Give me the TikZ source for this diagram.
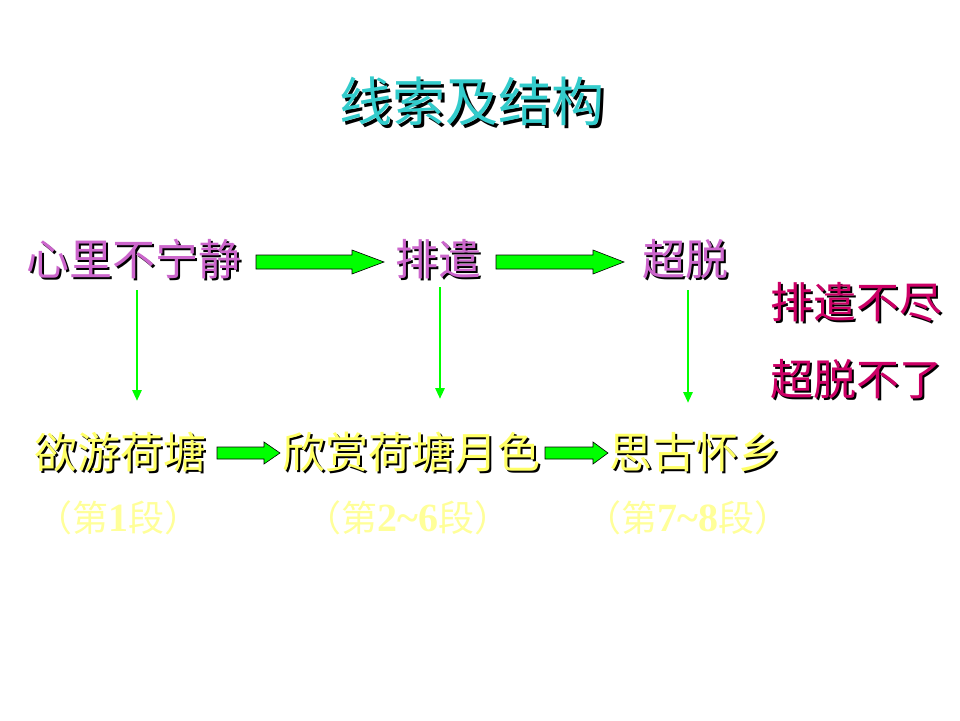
\documentclass[tikz,border=0pt]{standalone}
\usepackage{fontspec}
\usetikzlibrary{arrows.meta,calc}
\newfontfamily\cjk{Noto Sans CJK SC}
\newfontfamily\numfont{Liberation Serif}
\definecolor{titlecol}{HTML}{33CCCC}
\definecolor{violetcol}{HTML}{CC66CC}
\definecolor{yellowcol}{HTML}{FFFF66}
\definecolor{redcol}{HTML}{CC0066}
\definecolor{palecol}{HTML}{FFFF99}
\definecolor{arrowgreen}{HTML}{00FF00}
\newcommand\shtxt[3]{\rlap{\hspace{#3}\raisebox{-#3}{\color{black}#2}}{\color{#1}#2}}
\newcommand\dg[1]{{\numfont\bfseries\fontsize{40}{44}\selectfont #1}}
\tikzset{
  txt/.style={inner sep=0pt, font=\cjk\fontsize{43}{48}\selectfont},
  ttl/.style={inner sep=0pt, font=\cjk\fontsize{53}{60}\selectfont},
  para/.style={inner sep=0pt, text=palecol, font=\cjk\fontsize{36}{40}\selectfont},
  barrow/.style={draw=black, line width=0.6pt, fill=arrowgreen, line join=miter},
  varrow/.style={draw=arrowgreen, line width=2.8pt, -{Triangle[width=9pt,length=11pt]}}
}
\newcommand\blockarr[5]{%
  \draw[barrow] ($(#1)+(0,#3)$) -- ($(#2)+(-#5,#3)$) -- ($(#2)+(-#5,#4)$) -- (#2)
    -- ($(#2)+(-#5,-#4)$) -- ($(#2)+(-#5,-#3)$) -- ($(#1)+(0,-#3)$) -- cycle;}
\begin{document}
\begin{tikzpicture}[x=1pt,y=-1pt]
\useasboundingbox (0,0) rectangle (960,720);
\fill[white] (0,0) rectangle (960,720);
% title
\node[ttl] (title) at (472,103) {\shtxt{titlecol}{线索及结构}{2.5pt}};
% top row
\node[txt] (n1) at (134,260) {\shtxt{violetcol}{心里不宁静}{2pt}};
\node[txt] (n2) at (438,260) {\shtxt{violetcol}{排遣}{2pt}};
\node[txt] (n3) at (685,260) {\shtxt{violetcol}{超脱}{2pt}};
% right notes
\node[txt] (r1) at (856,303) {\shtxt{redcol}{排遣不尽}{2pt}};
\node[txt] (r2) at (856,380) {\shtxt{redcol}{超脱不了}{2pt}};
% middle row
\node[txt] (m1) at (120,453) {\shtxt{yellowcol}{欲游荷塘}{2pt}};
\node[txt] (m2) at (411,453) {\shtxt{yellowcol}{欣赏荷塘月色}{2pt}};
\node[txt] (m3) at (695,453) {\shtxt{yellowcol}{思古怀乡}{2pt}};
% paragraph labels
\node[para] (p1) at (118,518) {（第\dg{1}段）};
\node[para] (p2) at (408,518) {（第\dg{2\char"007E 6}段）};
\node[para] (p3) at (688,518) {（第\dg{7\char"007E 8}段）};
% block arrow end points
\coordinate (a1s) at (256,262); \coordinate (a1e) at (384,262);
\coordinate (a2s) at (496,262); \coordinate (a2e) at (624,262);
\coordinate (b1s) at (217,453); \coordinate (b1e) at (280,453);
\coordinate (b2s) at (545,453); \coordinate (b2e) at (608,453);
\blockarr{a1s}{a1e}{7}{12}{32}
\blockarr{a2s}{a2e}{7}{12}{31}
\blockarr{b1s}{b1e}{6}{11}{16}
\blockarr{b2s}{b2e}{6}{11}{15}
% vertical arrows
\coordinate (v1s) at (137,290); \coordinate (v1e) at (137,401);
\coordinate (v2s) at (440,287); \coordinate (v2e) at (440,399);
\coordinate (v3s) at (688,290); \coordinate (v3e) at (688,403);
\draw[varrow] (v1s) -- (v1e);
\draw[varrow] (v2s) -- (v2e);
\draw[varrow] (v3s) -- (v3e);
\end{tikzpicture}
\end{document}
